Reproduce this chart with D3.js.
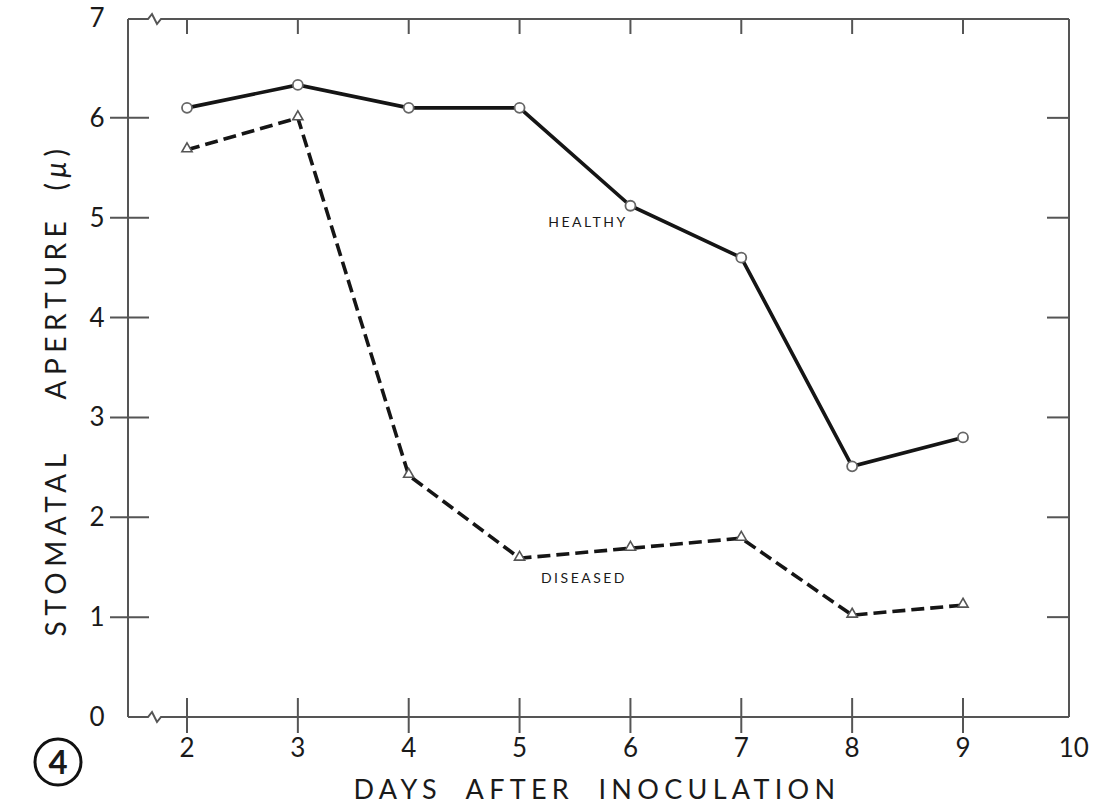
<!DOCTYPE html>
<html>
<head>
<meta charset="utf-8">
<script src="https://cdn.jsdelivr.net/npm/d3@7/dist/d3.min.js"></script>
<style>
  body { margin: 0; background: #fff; }
  text { font-family: "Lato", "DejaVu Sans", sans-serif; fill: #1a1a1a; }
</style>
</head>
<body>
<div id="chart"></div>
<script>
// data
var days = [2, 3, 4, 5, 6, 7, 8, 9];
var healthy = [6.1, 6.33, 6.1, 6.1, 5.12, 4.6, 2.51, 2.8];
var diseased = [5.68, 6.0, 2.42, 1.59, 1.69, 1.79, 1.02, 1.12];
var xTicks = [2, 3, 4, 5, 6, 7, 8, 9, 10];
var yTicks = [0, 1, 2, 3, 4, 5, 6, 7];

var W = 1094, H = 808;
var svg = d3.select("#chart").append("svg")
    .attr("width", W).attr("height", H);

var xScale = d3.scaleLinear().domain([2, 9]).range([187, 963]);
var yScale = d3.scaleLinear().domain([0, 7]).range([717, 18]);

var frameL = 128, frameR = 1069, frameT = yScale(7) + 1, frameB = yScale(0);
var frame = svg.append("g").attr("stroke", "#555").attr("stroke-width", 2).attr("fill", "none");

// frame with axis breaks (zigzag) near the left of top and bottom
function breakPath(y) {
    return "M" + frameL + "," + y + " L148," + y + " L152," + (y - 5) + " L157," + (y + 5) +
        " L161," + y + " L" + frameR + "," + y;
}
frame.append("path").attr("d", breakPath(frameT));
frame.append("path").attr("d", breakPath(frameB));
frame.append("line").attr("x1", frameL).attr("x2", frameL).attr("y1", frameT).attr("y2", frameB);
frame.append("line").attr("x1", frameR).attr("x2", frameR).attr("y1", frameT).attr("y2", frameB);

// x ticks: crossing bottom, inward at top
days.forEach(function (d) {
    frame.append("line").attr("x1", xScale(d)).attr("x2", xScale(d))
        .attr("y1", frameB - 19).attr("y2", frameB + 16);
    frame.append("line").attr("x1", xScale(d)).attr("x2", xScale(d))
        .attr("y1", frameT).attr("y2", frameT + 15);
});
// y ticks: crossing left, inward at right
yTicks.slice(1, 7).forEach(function (v) {
    frame.append("line").attr("x1", frameL - 18).attr("x2", frameL + 21)
        .attr("y1", yScale(v)).attr("y2", yScale(v));
    frame.append("line").attr("x1", frameR - 22).attr("x2", frameR)
        .attr("y1", yScale(v)).attr("y2", yScale(v));
});

// tick labels
svg.selectAll(".xl").data(xTicks).enter().append("text")
    .attr("x", function (d) { return xScale(d); })
    .attr("y", 757)
    .attr("text-anchor", "middle")
    .style("font-size", "26px")
    .text(function (d) { return d; });
svg.selectAll(".yl").data(yTicks).enter().append("text")
    .attr("x", 97)
    .attr("y", function (d) { return yScale(d) + 9; })
    .attr("text-anchor", "middle")
    .style("font-size", "26px")
    .text(function (d) { return d; });

// axis titles
svg.append("text")
    .attr("x", 597).attr("y", 799)
    .attr("text-anchor", "middle")
    .style("font-size", "27px")
    .style("letter-spacing", "5.3px")
    .attr("xml:space", "preserve")
    .text("DAYS  AFTER  INOCULATION");
var yt = svg.append("text")
    .attr("transform", "translate(66,390) rotate(-90)")
    .attr("text-anchor", "middle")
    .style("font-size", "28px")
    .style("letter-spacing", "5.5px")
    .attr("xml:space", "preserve");
yt.append("tspan").text("STOMATAL    APERTURE  (");
yt.append("tspan").style("font-style", "italic").text("\u03bc");
yt.append("tspan").text(")");

// lines
var line = d3.line()
    .x(function (d, i) { return xScale(days[i]); })
    .y(function (d) { return yScale(d); });

svg.append("path").datum(healthy)
    .attr("d", line)
    .attr("fill", "none").attr("stroke", "#151515").attr("stroke-width", 3.6);
svg.append("path").datum(diseased)
    .attr("d", line)
    .attr("fill", "none").attr("stroke", "#151515").attr("stroke-width", 3.6)
    .attr("stroke-dasharray", "13,6");

// markers
svg.selectAll(".hc").data(healthy).enter().append("circle")
    .attr("cx", function (d, i) { return xScale(days[i]); })
    .attr("cy", function (d) { return yScale(d); })
    .attr("r", 5)
    .attr("fill", "#fff").attr("stroke", "#666").attr("stroke-width", 1.8);
var tri = d3.symbol().type(d3.symbolTriangle).size(45);
svg.selectAll(".dt").data(diseased).enter().append("path")
    .attr("d", tri)
    .attr("transform", function (d, i) { return "translate(" + xScale(days[i]) + "," + (yScale(d) - 1) + ")"; })
    .attr("fill", "#fff").attr("stroke", "#555").attr("stroke-width", 1.6);

// series labels
svg.append("text").attr("x", 588).attr("y", 227)
    .attr("text-anchor", "middle")
    .style("font-size", "14px").style("letter-spacing", "2.5px")
    .text("HEALTHY");
svg.append("text").attr("x", 584).attr("y", 583)
    .attr("text-anchor", "middle")
    .style("font-size", "14px").style("letter-spacing", "2.5px")
    .text("DISEASED");

// figure number
svg.append("circle").attr("cx", 58).attr("cy", 762).attr("r", 23)
    .attr("fill", "none").attr("stroke", "#111").attr("stroke-width", 3);
svg.append("text").attr("x", 58).attr("y", 774)
    .attr("text-anchor", "middle")
    .style("font-size", "33px").style("font-weight", "bold")
    .text("4");
</script>
</body>
</html>
